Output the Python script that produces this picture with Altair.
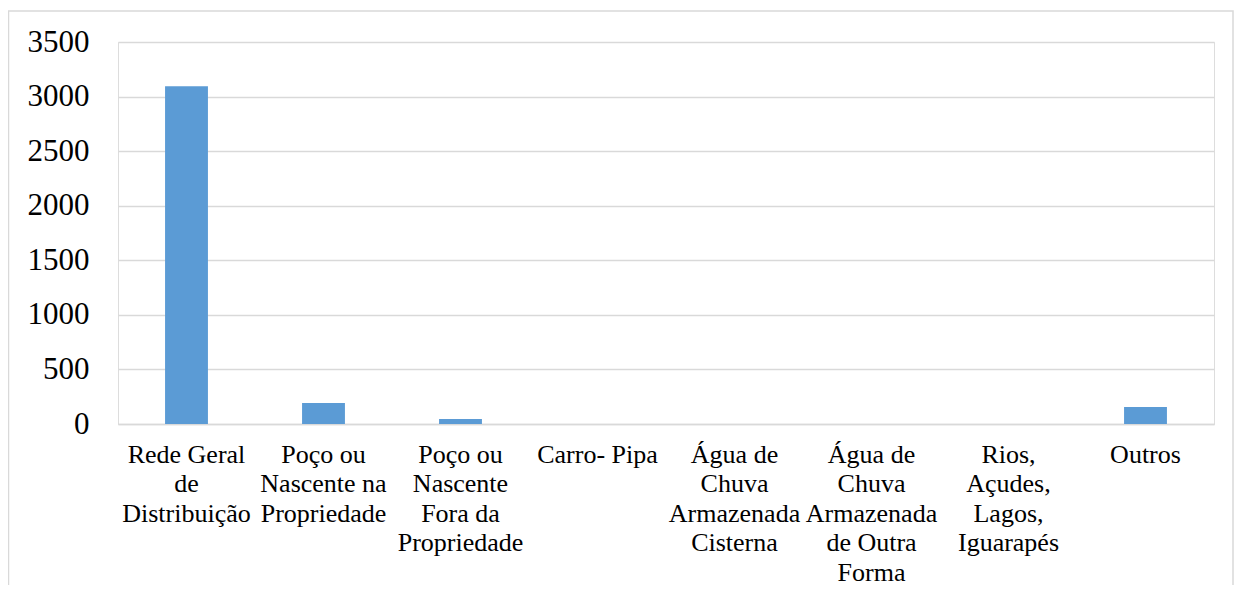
import altair as alt
import pandas as pd

categories = [
    "Rede Geral|de|Distribuição",
    "Poço ou|Nascente na|Propriedade",
    "Poço ou|Nascente|Fora da|Propriedade",
    "Carro- Pipa",
    "Água de|Chuva|Armazenada|Cisterna",
    "Água de|Chuva|Armazenada|de Outra|Forma",
    "Rios,|Açudes,|Lagos,|Iguarapés",
    "Outros",
]
values = [3095, 193, 46, 0, 0, 0, 0, 156]
y_ticks = [0, 500, 1000, 1500, 2000, 2500, 3000, 3500]

df = pd.DataFrame({"cat": categories, "val": values})

W, H = 1096, 382
FONT = "'Liberation Serif', 'Times New Roman', Times, serif"

bars = alt.Chart(df).mark_bar(color="#5B9BD5").encode(
    x=alt.X(
        "cat:N",
        sort=categories,
        scale=alt.Scale(paddingInner=0.687, paddingOuter=0.3435),
        axis=alt.Axis(
            title=None,
            labelAngle=0,
            labelExpr="split(datum.label, '|')",
            labelFont=FONT,
            labelFontSize=26,
            labelLineHeight=29.5,
            labelColor="#000000",
            labelBaseline="top",
            labelPadding=17,
            ticks=False,
            tickSize=0,
            domain=True,
            domainColor="#D9D9D9",
            domainWidth=1.5,
            grid=False,
            labelLimit=300,
        ),
    ),
    y=alt.Y(
        "val:Q",
        scale=alt.Scale(domain=[0, 3500], nice=False),
        axis=alt.Axis(
            title=None,
            values=y_ticks,
            format="d",
            labelFont=FONT,
            labelFontSize=31,
            labelColor="#000000",
            labelPadding=29,
            ticks=False,
            tickSize=0,
            domain=False,
            grid=True,
            gridColor="#D9D9D9",
            gridWidth=1.5,
        ),
    ),
)

border = alt.Chart(pd.DataFrame({"k": [0]})).mark_rect(
    fill=None, stroke="#D9D9D9", strokeWidth=1.5
).encode(
    x=alt.value(-109.5),
    x2=alt.value(W + 19),
    y=alt.value(-31),
    y2=alt.value(H + 220),
)

chart = alt.layer(border, bars).properties(
    width=W,
    height=H,
    autosize=alt.AutoSizeParams(type="none"),
    padding={"left": 110, "top": 34, "right": 20, "bottom": 161},
).configure_view(stroke=None).configure(
    background="white", font=FONT
).configure_axis(labelFont=FONT)

chart.save("out.html", embed_options={"renderer": "svg", "actions": False})
